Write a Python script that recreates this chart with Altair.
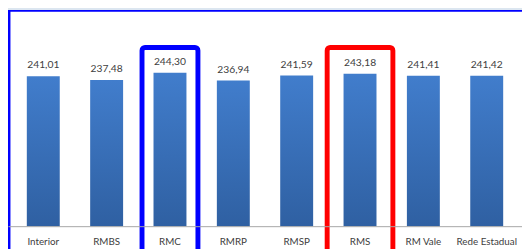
import altair as alt
import pandas as pd

categories = ["Interior", "RMBS", "RMC", "RMRP", "RMSP", "RMS", "RM Vale", "Rede Estadual"]
values = [241.01, 237.48, 244.30, 236.94, 241.59, 243.18, 241.41, 241.42]
value_labels = ["241,01", "237,48", "244,30", "236,94", "241,59", "243,18", "241,41", "241,42"]
highlight_blue = ["RMC"]
highlight_red = ["RMS"]

df = pd.DataFrame({"cat": categories, "val": values, "lab": value_labels})

FONT = "Lato"

xscale = alt.Scale(domain=categories, paddingInner=0.48, paddingOuter=0.297)
yscale = alt.Scale(domain=[100, 302.8], nice=False, zero=False)

x_enc = alt.X("cat:N", scale=xscale, sort=categories,
              axis=alt.Axis(title=None, labelAngle=0, ticks=False, domainColor="#a6a6a6",
                            domainWidth=1, labelColor="#404040", labelFont=FONT,
                            labelFontSize=10, labelPadding=10.5, grid=False, zindex=1))

bg = alt.Chart(df).mark_rect(fill="white", stroke="#0000ff", strokeWidth=2).encode(
    x=alt.value(1.5), x2=alt.value(700), y=alt.value(0.5), y2=alt.value(500)
)

bars = alt.Chart(df).mark_bar(
    color=alt.Gradient(gradient="linear",
                       stops=[alt.GradientStop(color="#417dcc", offset=0),
                              alt.GradientStop(color="#2f60a2", offset=1)],
                       x1=0, x2=0, y1=0, y2=1)
).encode(
    x=x_enc,
    y=alt.Y("val:Q", scale=yscale, axis=None),
    y2=alt.datum(100),
)

texts = alt.Chart(df).mark_text(dy=-11, font=FONT, fontSize=10.5, color="#404040").encode(
    x=alt.X("cat:N", scale=xscale, sort=categories),
    y=alt.Y("val:Q", scale=yscale),
    text="lab:N",
)

hb = alt.Chart(df).transform_filter(
    alt.FieldOneOfPredicate(field="cat", oneOf=highlight_blue)
).mark_bar(size=57, fill=None, fillOpacity=0, stroke="#0000ff", strokeWidth=5, cornerRadius=3).encode(
    x=alt.X("cat:N", scale=xscale, sort=categories),
    y=alt.value(37.8), y2=alt.value(400),
)

hr = alt.Chart(df).transform_filter(
    alt.FieldOneOfPredicate(field="cat", oneOf=highlight_red)
).mark_bar(size=67, fill=None, fillOpacity=0, stroke="#ff0000", strokeWidth=5, cornerRadius=3).encode(
    x=alt.X("cat:N", scale=xscale, sort=categories),
    y=alt.value(37.8), y2=alt.value(400),
)

chart = alt.layer(bg, bars, texts, hb, hr).properties(
    width=524, height=220,
    autosize=alt.AutoSizeParams(type="none"),
    padding={"left": 0, "top": 0, "right": 0, "bottom": 30},
    background="#dce6f0",
).configure_view(stroke=None)

chart.save("out.html", embed_options={"renderer": "svg", "actions": False})
